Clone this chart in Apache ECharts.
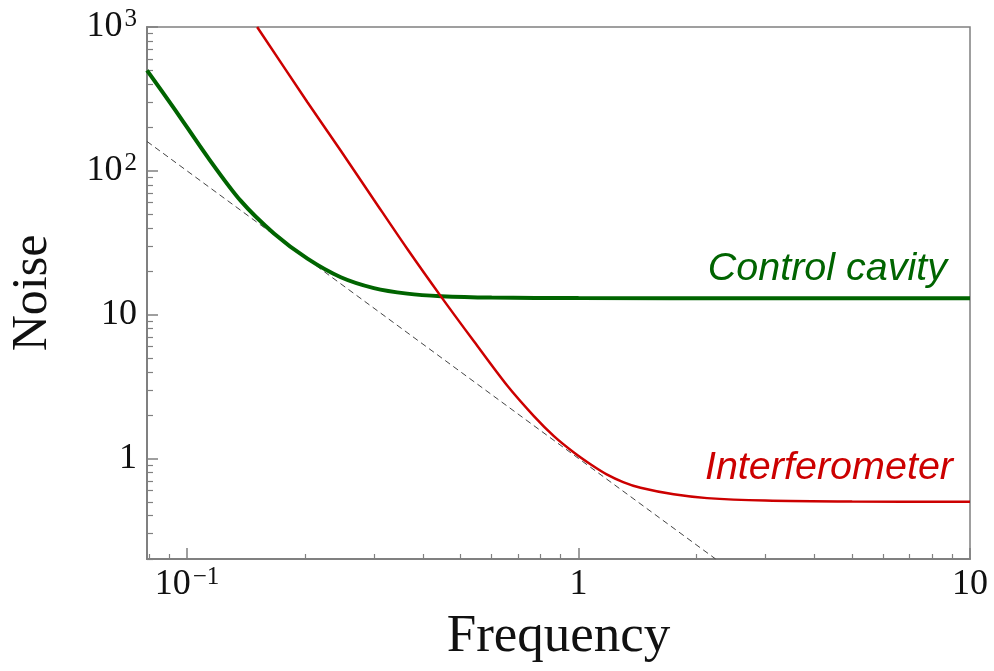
<!DOCTYPE html>
<html>
<head>
<meta charset="utf-8">
<title>Noise vs Frequency</title>
<script src="https://cdn.jsdelivr.net/npm/echarts@6/dist/echarts.min.js"></script>
<style>
  html, body { margin: 0; padding: 0; background: #fff; }
  #chart { width: 994px; height: 671px; }
</style>
</head>
<body>
<div id="chart"></div>
<script>
// axis extents
const xRange = [0.079, 10];
const yRange = [0.2, 1000];

// major ticks: value, mantissa, exponent
const xTicks = [0.1, 1, 10];
const xTickBase = ['10', '1', '10'];
const xTickExp = ['−1', '', ''];
const yTicks = [1, 10, 100, 1000];
const yTickBase = ['1', '10', '10', '10'];
const yTickExp = ['', '', '2', '3'];

// minor ticks
const xMinor = [0.08, 0.09, 0.2, 0.3, 0.4, 0.5, 0.6, 0.7, 0.8, 0.9, 2, 3, 4, 5, 6, 7, 8, 9];
const yMinor = [0.2, 0.3, 0.4, 0.5, 0.6, 0.7, 0.8, 0.9, 2, 3, 4, 5, 6, 7, 8, 9,
  20, 30, 40, 50, 60, 70, 80, 90, 200, 300, 400, 500, 600, 700, 800, 900];

// control cavity (green)
const cavityF = [0.079, 0.0928, 0.113, 0.137, 0.167, 0.203, 0.247, 0.30, 0.365, 0.445, 0.6, 1, 3, 10];
const cavityV = [500, 270, 124, 62, 36.5, 24.5, 18.2, 15.3, 14.0, 13.45, 13.15, 13.05, 13, 13];

// interferometer (red)
const ifoF = [0.151, 0.203, 0.247, 0.30, 0.365, 0.445, 0.541, 0.658, 0.769, 0.865, 0.973, 1.08, 1.18, 1.3, 1.44, 1.75, 2.13, 3, 5, 10];
const ifoV = [1000, 300, 138, 63, 28.7, 13.4, 6.5, 3.2, 1.97, 1.43, 1.1, 0.9, 0.775, 0.685, 0.625, 0.563, 0.53, 0.51, 0.502, 0.5];

// dashed reference line
const refF = [0.079, 1, 2.24];
const refV = [160, 1, 0.2];

const pairs = (xs, ys) => xs.map((x, i) => [x, ys[i]]);
const axisGray = '#808080';
const serif = '"Liberation Serif", "DejaVu Serif", serif';
const sans = '"Liberation Sans", Arial, sans-serif';

function tickFormatter(ticks, base, exp) {
  return function (v) {
    const i = ticks.findIndex(t => Math.abs(Math.log10(t) - Math.log10(v)) < 1e-6);
    if (i < 0) return '';
    return exp[i] ? '{b|' + base[i] + '}{s|' + exp[i] + '}' : '{b|' + base[i] + '}';
  };
}

const richLabel = {
  b: { fontSize: 36, fontFamily: serif, color: '#111', lineHeight: 40 },
  s: { fontSize: 25, fontFamily: serif, color: '#111', lineHeight: 26, verticalAlign: 'top', padding: [0, 0, 0, 2] }
};

const chart = echarts.init(document.getElementById('chart'));
chart.setOption({
  animation: false,
  backgroundColor: '#fff',
  grid: {
    left: 146, right: 24, top: 27, bottom: 112,
    show: true, borderColor: axisGray, borderWidth: 1.5, backgroundColor: 'transparent'
  },
  xAxis: [
    {
      type: 'log', logBase: 10, min: xRange[0], max: xRange[1],
      position: 'bottom',
      name: 'Frequency', nameLocation: 'middle', nameGap: 52,
      nameTextStyle: { fontSize: 53, fontFamily: serif, color: '#111' },
      axisLine: { onZero: false, lineStyle: { color: axisGray, width: 2 } },
      axisTick: { inside: true, length: 11, lineStyle: { color: axisGray, width: 1.5 } },
      axisLabel: { margin: 6, formatter: tickFormatter(xTicks, xTickBase, xTickExp), rich: richLabel },
      splitLine: { show: false },
      minorTick: { show: false }
    },
    {
      type: 'value', min: Math.log10(xRange[0]), max: Math.log10(xRange[1]),
      position: 'bottom',
      axisLine: { show: false, onZero: false },
      axisTick: { inside: true, length: 5, customValues: xMinor.map(Math.log10), lineStyle: { color: axisGray, width: 1.2 } },
      axisLabel: { show: false },
      splitLine: { show: false }
    }
  ],
  yAxis: [
    {
      type: 'log', logBase: 10, min: yRange[0], max: yRange[1],
      position: 'left',
      name: 'Noise', nameLocation: 'middle', nameGap: 89,
      nameTextStyle: { fontSize: 50, fontFamily: serif, color: '#111' },
      axisLine: { onZero: false, lineStyle: { color: axisGray, width: 2 } },
      axisTick: { inside: true, length: 11, lineStyle: { color: axisGray, width: 1.5 } },
      axisLabel: { margin: 10, formatter: tickFormatter(yTicks, yTickBase, yTickExp), rich: richLabel },
      splitLine: { show: false },
      minorTick: { show: false }
    },
    {
      type: 'value', min: Math.log10(yRange[0]), max: Math.log10(yRange[1]),
      position: 'left',
      axisLine: { show: false, onZero: false },
      axisTick: { inside: true, length: 6, customValues: yMinor.map(Math.log10), lineStyle: { color: axisGray, width: 1.2 } },
      axisLabel: { show: false },
      splitLine: { show: false }
    }
  ],
  series: [
    {
      name: 'reference', type: 'line', xAxisIndex: 0, yAxisIndex: 0,
      data: pairs(refF, refV), symbol: 'none', silent: true,
      lineStyle: { color: '#444', width: 1, type: [6, 4] }
    },
    {
      name: 'Control cavity', type: 'line', xAxisIndex: 0, yAxisIndex: 0,
      data: pairs(cavityF, cavityV), symbol: 'none', smooth: 0.3,
      lineStyle: { color: '#006400', width: 4 }
    },
    {
      name: 'Interferometer', type: 'line', xAxisIndex: 0, yAxisIndex: 0,
      data: pairs(ifoF, ifoV), symbol: 'none', smooth: 0.3,
      lineStyle: { color: '#cc0000', width: 2.5 }
    }
  ],
  graphic: [
    {
      type: 'text', right: 994 - 947, top: 249,
      style: { text: 'Control cavity', fill: '#006400', font: 'italic 39.5px ' + sans }
    },
    {
      type: 'text', right: 994 - 953, top: 448,
      style: { text: 'Interferometer', fill: '#cc0000', font: 'italic 39.5px ' + sans }
    }
  ]
});
</script>
</body>
</html>
